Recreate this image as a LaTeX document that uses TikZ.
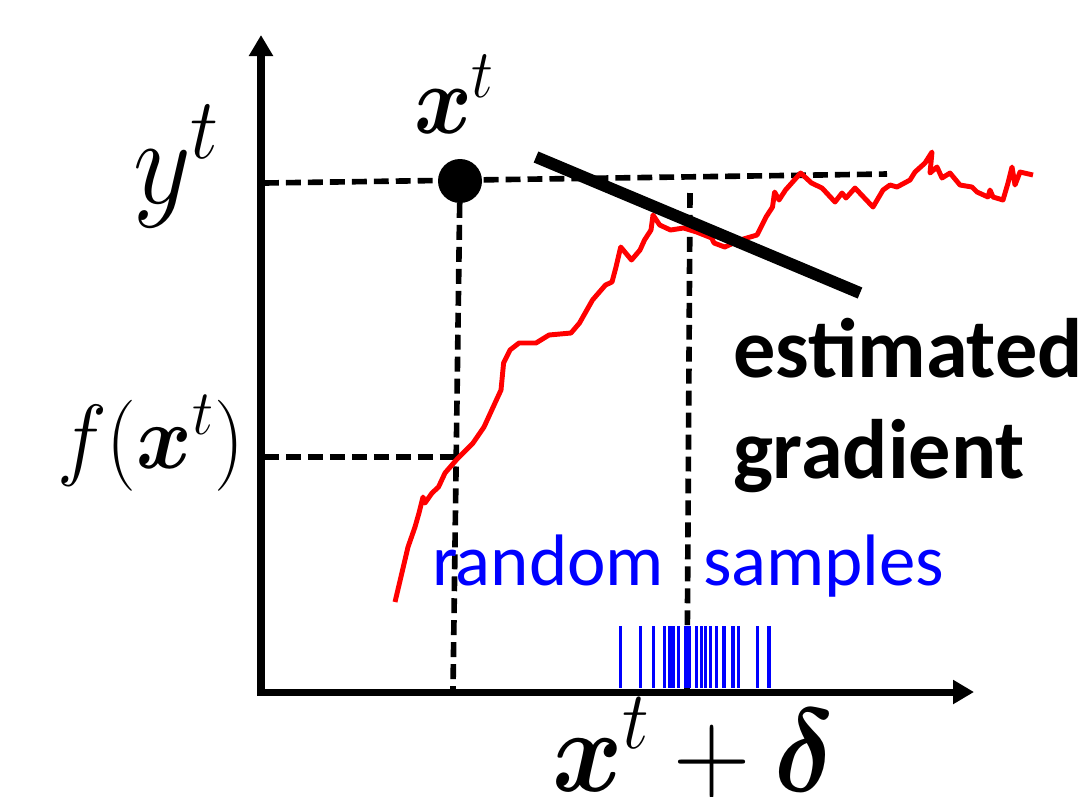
\RequirePackage{fix-cm}
\documentclass[tikz,border=0pt]{standalone}
\usepackage{amsmath}
\usepackage{fontspec}
\newfontfamily\carl{Carlito}
\usetikzlibrary{arrows.meta}
\tikzset{
  axis/.style={line width=4pt, -{Triangle[length=0.42cm,width=0.46cm]}},
  guide/.style={line width=3.2pt, dash pattern=on 8.5pt off 4pt},
  curve/.style={red, line width=2.8pt, line join=round},
  sample/.style={blue, line width=1.8pt},
  grad/.style={line width=6.8pt},
  lab/.style={inner sep=0pt, outer sep=0pt},
}
\newcommand{\mysz}[1]{\fontsize{#1}{#1}\selectfont}
\begin{document}
\begin{tikzpicture}[x=0.02cm, y=-0.02cm]
\useasboundingbox (0,0) rectangle (1088,796);
% guide coordinates
\coordinate (ytL) at (264,183);
\coordinate (ytR) at (887,174);
\coordinate (dot) at (460,181);
\coordinate (dotB) at (453,690);
\coordinate (fL) at (264,457);
\coordinate (fR) at (455,457);
\coordinate (sT) at (690,193);
\coordinate (sB) at (687,690);
\draw[guide] (ytL) -- (ytR);
\draw[guide] (dot) -- (dotB);
\draw[guide] (fL) -- (fR);
\draw[guide] (sT) -- (sB);
% red curve
\draw[curve] (395,602) -- (399.5,583) -- (408,547) -- (415,527) -- (419,513) -- (423,497) -- (425,503) -- (432,493) -- (438.5,487) -- (445,473) -- (458,458) -- (473,443) -- (484,427) -- (495,403) -- (501,390) -- (503.6,363) -- (510,350) -- (519,343) -- (536,343) -- (549,335) -- (571,333) -- (579.5,323) -- (592.5,300) -- (605.5,285) -- (612,282) -- (616,267) -- (620.7,247) -- (631.5,260) -- (640,250) -- (644.5,240) -- (651,230) -- (653,215) -- (659.7,225) -- (670.5,230) -- (683.6,228) -- (696.6,232) -- (711.7,238) -- (714,243) -- (724.8,247) -- (740,240) -- (757,235) -- (766,217) -- (772.5,207) -- (774.6,192) -- (779,200) -- (785.5,190) -- (800.6,173) -- (811.5,183) -- (822,188) -- (835,202) -- (842,193) -- (846,198) -- (855,188) -- (873,207) -- (883,190) -- (890,185) -- (897,187) -- (910,180) -- (915,172) -- (925,163) -- (932,152) -- (930,173) -- (937,167) -- (942,178) -- (950,173) -- (960,185) -- (972,187) -- (977,192) -- (988,197) -- (990,190) -- (993,197) -- (1003,200) -- (1008,183) -- (1012,167) -- (1015,185) -- (1020,172) -- (1033,175);
% estimated gradient line
\coordinate (gA) at (536,157);
\coordinate (gB) at (860,293);
\draw[grad] (gA) -- (gB);
% point
\fill (dot) circle[radius=0.44cm];
% random samples
\foreach \s in {620.7,640.7,653.3,664.3,670,673,678.3,686,689,696.5,701.7,705.7,710.3,716.7,724,733,738.3,757.3,769}
  \draw[sample] (\s,626) -- (\s,688);
% axes
\coordinate (O1) at (261,695);
\coordinate (Ytop) at (261,35);
\coordinate (O2) at (257,692);
\coordinate (Xend) at (974,692);
\draw[axis] (O1) -- (Ytop);
\draw[axis] (O2) -- (Xend);
% labels
\node[lab, anchor=base west] (ylab) at (133,203) {\scalebox{1}[1.1]{\mysz{64}$y^t$}};
\node[lab, anchor=base west] (xlab) at (414,133) {\scalebox{1}[1.12]{\mysz{50}$\boldsymbol{x}^t$}};
\node[lab, anchor=base east] (flab) at (244,468) {\scalebox{1}[1.08]{\mysz{48}$f(\boldsymbol{x}^t)$}};
\node[lab, anchor=base west] (xdlab) at (552,791) {\scalebox{1}[1.1]{\mysz{61}$\boldsymbol{x}^t+\boldsymbol{\delta}$}};
\node[lab, anchor=base west] (est) at (733,377) {\carl\bfseries\mysz{48}estimated};
\node[lab, anchor=base west] (gra) at (733,478) {\carl\bfseries\mysz{48}gradient};
\node[lab, anchor=base west, text=blue] (rnd) at (432,585) {\carl\mysz{41.5}random};
\node[lab, anchor=base west, text=blue] (smp) at (703,585) {\carl\mysz{41.5}samples};
\end{tikzpicture}
\end{document}
